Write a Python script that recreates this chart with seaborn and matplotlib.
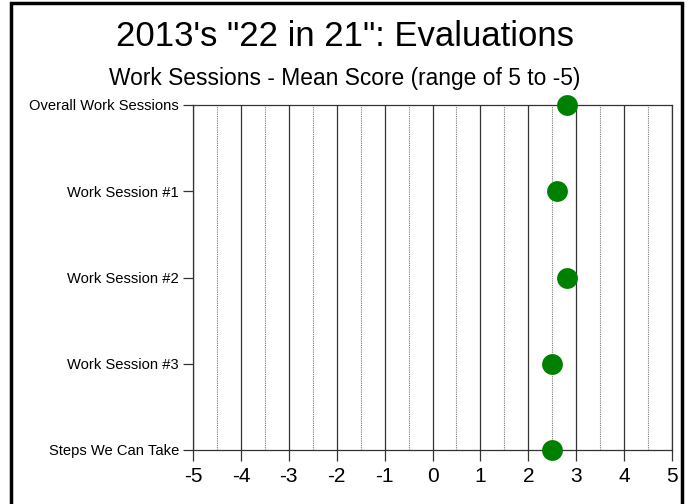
import matplotlib.pyplot as plt
import seaborn as sns
import pandas as pd
from matplotlib.patches import Rectangle

sessions = ["Overall Work Sessions", "Work Session #1", "Work Session #2",
            "Work Session #3", "Steps We Can Take"]
mean_scores = [2.8, 2.6, 2.8, 2.5, 2.5]
x_ticks = list(range(-5, 6))

df = pd.DataFrame({"session": sessions, "score": mean_scores})

sns.set_style("white")
plt.rcParams['font.family'] = ['Liberation Sans', 'DejaVu Sans']
plt.rcParams['text.color'] = 'black'
plt.rcParams['xtick.color'] = 'black'
plt.rcParams['ytick.color'] = 'black'

fig = plt.figure(figsize=(6.89, 5.04), dpi=100)
ax = fig.add_axes([193 / 689, 1 - 450 / 504, (672 - 193) / 689, (450 - 105) / 504])

# half-unit gridlines, lighter and dotted
for v in [i + 0.5 for i in x_ticks[:-1]]:
    ax.axvline(v, color="#777777", lw=0.8, ls=(0, (1, 1)), zorder=0)
for v in x_ticks:
    ax.axvline(v, color="#333333", lw=0.9, zorder=0)

sns.stripplot(data=df, x="score", y="session", order=sessions, jitter=False,
              color="green", size=15, linewidth=0, ax=ax, zorder=5)
for c in ax.collections:
    c.set_clip_on(False)

ax.set_xlim(-5, 5)
ax.set_ylim(len(sessions) - 1, 0)
ax.set_xticks(x_ticks)
ax.set_xticklabels([str(t) for t in x_ticks], fontsize=15)
ax.set_yticks(range(len(sessions)))
ax.set_yticklabels(sessions, fontsize=10.6)
ax.tick_params(axis="x", direction="out", length=8, width=0.9, color="#333333", pad=4, bottom=True)
ax.tick_params(axis="y", direction="out", length=7, width=0.9, color="#333333", pad=3, left=True)
ax.set_xlabel("")
ax.set_ylabel("")
for s in ax.spines.values():
    s.set_color("#333333")
    s.set_linewidth(0.9)

fig.text(0.5, 1 - 37 / 504, "2013's \"22 in 21\": Evaluations", ha="center", va="center", fontsize=25)
fig.text(0.5, 1 - 79 / 504, "Work Sessions - Mean Score (range of 5 to -5)", ha="center", va="center", fontsize=16.4)

# outer black frame
fig.patches.append(Rectangle((11 / 689, -0.05), (682 - 11) / 689, 1.05 - 3 / 504,
                             transform=fig.transFigure, fill=False, edgecolor="black", lw=2.5))

fig.savefig("out.png", dpi=100)
